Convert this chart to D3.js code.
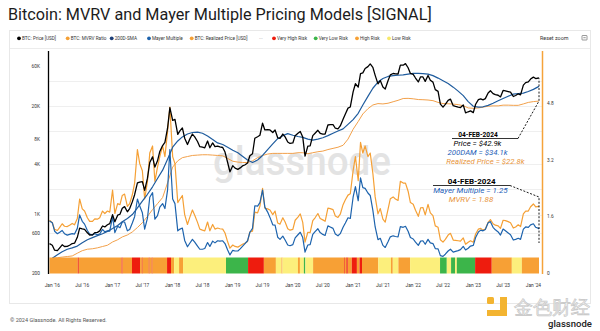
<!DOCTYPE html>
<html>
<head>
<meta charset="utf-8">
<script src="https://cdn.jsdelivr.net/npm/d3@7"></script>
<style>
  body { margin: 0; background: #fff; }
  svg text { font-family: Roboto, "Noto Sans", sans-serif; }
</style>
</head>
<body>
<svg id="chart" width="600" height="331"></svg>
<script>
// ---- data (semi-monthly: 15 Dec 2015, then 1st/15th of each month, last point 04 Feb 2024)
var priceUsd = [450,
  430, 375, 370, 400, 435, 415, 417, 430, 450, 455, 535, 690, 675, 665, 605, 570, 572, 608, 613, 638, 730, 712, 755, 780,
  1000, 820, 985, 1010, 1190, 1245, 1080, 1180, 1420, 1730, 2400, 2450, 2480, 1950, 2730, 4200, 4900, 3700, 4400, 5700, 6700, 7300, 10800, 19000,
  13400, 13800, 9100, 10100, 10900, 8200, 6900, 8000, 9200, 8500, 7500, 6500, 6400, 6300, 7600, 6300, 7200, 6500, 6600, 6450, 6350, 5600, 4200, 3250,
  3850, 3600, 3480, 3620, 3820, 3920, 4150, 5050, 5350, 8200, 8550, 8900, 12400, 10300, 10400, 10300, 9600, 10300, 8300, 8150, 9200, 8500, 7400, 7100,
  7200, 8800, 9400, 9900, 8500, 5000, 6600, 6650, 8800, 9400, 10200, 9400, 9200, 9200, 11800, 11900, 11900, 10800, 10600, 11500, 13800, 16000, 18800, 19400,
  29400, 36800, 33500, 48700, 49600, 55900, 59000, 63500, 57800, 46400, 36700, 40200, 33600, 31800, 39900, 47000, 48800, 48200, 48100, 61600, 61300, 64000, 57200, 48900,
  47700, 43100, 38700, 44500, 44400, 39300, 46300, 40500, 38500, 31300, 29800, 21000, 19300, 20800, 23300, 24100, 20100, 19700, 19300, 19100, 20500, 16500, 17000, 17400,
  16600, 20900, 23700, 24300, 23600, 24400, 28500, 30300, 28000, 27200, 26800, 25600, 30600, 30300, 29700, 29200, 25900, 26600, 27900, 27100, 35400, 37900, 38700, 41900,
  44200, 42500, 43100, 42900];

var mvrvRatio = [1.5,
  1.43, 1.24, 1.21, 1.30, 1.40, 1.33, 1.32, 1.36, 1.41, 1.37, 1.55, 2.1, 1.82, 1.76, 1.57, 1.47, 1.47, 1.54, 1.53, 1.57, 1.76, 1.69, 1.76, 1.73,
  2.35, 1.69, 1.97, 1.94, 2.2, 2.24, 1.89, 1.97, 2.22, 2.55, 3.5, 3.1, 2.9, 2.1, 2.6, 3.4, 3.6, 2.6, 3.0, 3.3, 3.6, 3.3, 4.0, 4.7,
  3.3, 3.1, 2.0, 2.1, 2.2, 1.66, 1.38, 1.58, 1.79, 1.64, 1.44, 1.25, 1.22, 1.2, 1.45, 1.2, 1.38, 1.25, 1.28, 1.26, 1.25, 1.14, 0.89, 0.71,
  0.8, 0.76, 0.74, 0.78, 0.82, 0.85, 0.9, 1.17, 1.19, 1.73, 1.71, 1.9, 2.4, 1.84, 1.82, 1.79, 1.66, 1.76, 1.42, 1.39, 1.57, 1.45, 1.26, 1.22,
  1.24, 1.5, 1.59, 1.68, 1.44, 0.88, 1.16, 1.15, 1.49, 1.57, 1.69, 1.55, 1.51, 1.47, 1.84, 1.83, 1.8, 1.62, 1.58, 1.67, 1.94, 2.08, 2.21, 2.25,
  2.9, 3.3, 2.62, 3.7, 3.4, 3.6, 3.3, 3.4, 2.82, 2.16, 1.68, 1.83, 1.53, 1.45, 1.81, 2.11, 2.16, 2.1, 2.06, 2.6, 2.55, 2.55, 2.32, 2.0,
  1.95, 1.78, 1.61, 1.85, 1.86, 1.65, 1.95, 1.71, 1.63, 1.34, 1.3, 0.95, 0.88, 0.96, 1.08, 1.13, 0.94, 0.93, 0.92, 0.91, 1.0, 0.82, 0.88, 0.92,
  0.88, 1.11, 1.25, 1.27, 1.22, 1.25, 1.44, 1.52, 1.4, 1.36, 1.34, 1.27, 1.5, 1.49, 1.46, 1.43, 1.28, 1.31, 1.37, 1.32, 1.68, 1.76, 1.76, 1.88,
  1.96, 1.88, 1.89, 1.88];

var mayerMultiple = [1.48,
  1.43, 1.19, 1.12, 1.16, 1.21, 1.12, 1.08, 1.10, 1.12, 1.11, 1.27, 1.65, 1.47, 1.39, 1.21, 1.11, 1.08, 1.12, 1.09, 1.11, 1.24, 1.17, 1.20, 1.19,
  1.6, 1.15, 1.33, 1.29, 1.45, 1.45, 1.2, 1.24, 1.42, 1.6, 2.1, 1.9, 1.71, 1.25, 1.56, 2.15, 2.28, 1.53, 1.63, 1.87, 1.97, 1.83, 2.35, 3.5,
  2.1, 1.97, 1.2, 1.25, 1.28, 0.93, 0.75, 0.85, 0.96, 0.88, 0.77, 0.68, 0.68, 0.7, 0.87, 0.76, 0.91, 0.86, 0.92, 0.91, 0.92, 0.84, 0.66, 0.52,
  0.65, 0.63, 0.63, 0.69, 0.76, 0.83, 0.92, 1.16, 1.27, 1.91, 1.9, 2.0, 2.35, 1.87, 1.73, 1.58, 1.37, 1.36, 1.02, 0.96, 1.05, 0.94, 0.8, 0.78,
  0.81, 1.0, 1.09, 1.16, 1.01, 0.6, 0.8, 0.81, 1.1, 1.18, 1.26, 1.15, 1.1, 1.07, 1.34, 1.31, 1.27, 1.11, 1.06, 1.12, 1.30, 1.42, 1.57, 1.55,
  2.15, 2.45, 2.05, 2.7, 2.42, 2.4, 2.27, 2.2, 1.78, 1.31, 0.95, 0.99, 0.79, 0.73, 0.89, 1.03, 1.06, 1.04, 1.03, 1.32, 1.3, 1.33, 1.19, 1.01,
  0.97, 0.88, 0.79, 0.91, 0.92, 0.82, 0.96, 0.86, 0.84, 0.7, 0.69, 0.5, 0.48, 0.54, 0.63, 0.68, 0.6, 0.62, 0.64, 0.67, 0.76, 0.66, 0.71, 0.77,
  0.79, 1.01, 1.17, 1.22, 1.2, 1.24, 1.43, 1.46, 1.3, 1.23, 1.17, 1.08, 1.25, 1.2, 1.14, 1.09, 0.94, 0.96, 0.99, 0.96, 1.25, 1.31, 1.3, 1.37,
  1.4, 1.3, 1.27, 1.25];

// monthly: 1st of each month Jan 2016 .. Feb 2024, last point 04 Feb 2024
var sma200 = [
  300, 330, 360, 385, 400, 420, 460, 500, 530, 560, 590, 630,
  680, 740, 820, 900, 1000, 1200, 1450, 1750, 2150, 2700, 3400, 4600,
  6400, 7600, 8500, 9200, 9600, 9700, 9400, 8700, 7900, 7200, 6900, 6400,
  5900, 5500, 5000, 4500, 4200, 4500, 5100, 6000, 7000, 8100, 8800, 9300,
  8900, 8600, 8400, 8000, 7800, 8000, 8300, 8800, 9400, 10000, 10600, 12000,
  13700, 16300, 20500, 26000, 32500, 38500, 42500, 45000, 46000, 46500, 47000, 48000,
  49000, 49000, 48500, 48000, 46000, 43000, 40000, 37000, 33500, 30000, 26500, 22500,
  19800, 19300, 19500, 20300, 21500, 23000, 24500, 26100, 27600, 28100, 28400, 29700,
  31500, 34000, 34100];

var realizedPrice = [
  300, 305, 310, 315, 320, 345, 370, 385, 390, 400, 415, 430,
  470, 500, 540, 570, 620, 700, 800, 950, 1150, 1350, 1600, 2400,
  3700, 4400, 4800, 4950, 5100, 5150, 5200, 5200, 5150, 5100, 5050, 4700,
  4350, 4250, 4200, 4200, 4400, 4800, 5100, 5300, 5400, 5400, 5400, 5400,
  5400, 5500, 5500, 5350, 5500, 5650, 5750, 6000, 6200, 6400, 6750, 8000,
  10500, 13000, 16000, 18500, 20500, 21300, 21100, 21500, 22400, 23300, 24500, 24600,
  24300, 23800, 23700, 23500, 23100, 22000, 21300, 21200, 21000, 20700, 20100, 18900,
  18700, 18900, 19300, 19800, 20000, 20000, 20400, 20400, 20300, 20300, 21100, 22000,
  22500, 22800, 22800];

// risk band: start date of each segment and its class (vh, h, l, vl)
var riskStarts = ["2015-12-15", "2016-06-04", "2016-06-10", "2017-02-25", "2017-03-03", "2017-04-29", "2017-06-17", "2017-06-28", "2017-07-02",
  "2017-08-09", "2017-08-13", "2017-08-27", "2017-08-31", "2017-11-28", "2017-12-22", "2018-01-10", "2018-02-09", "2018-03-05", "2018-11-21",
  "2019-04-04", "2019-07-09", "2019-09-20", "2019-10-24", "2019-10-30", "2020-02-01", "2020-02-13", "2020-03-08", "2020-03-17", "2020-05-03",
  "2020-11-07", "2020-11-11", "2020-11-19", "2020-11-23", "2020-11-27", "2020-12-01", "2020-12-24", "2021-01-24", "2021-02-09", "2021-02-24",
  "2021-06-03", "2021-08-19", "2021-08-30", "2021-10-03", "2021-12-13", "2022-06-13", "2022-07-24", "2022-08-19", "2022-09-12", "2022-09-23",
  "2023-01-12", "2023-04-23", "2023-08-23", "2023-10-23", "2024-02-04"];
var riskLevels = ["h", "vh", "h", "vh", "h", "vh", "h", "vh", "h",
  "vh", "h", "vh", "h", "vh", "h", "l", "h", "l", "vl",
  "vh", "h", "l", "h", "l", "h", "l", "vl", "l", "h",
  "vh", "h", "vh", "h", "vh", "h", "vh", "h", "vh", "h",
  "l", "h", "l", "h", "l", "vl", "l", "vl", "l", "vl",
  "vh", "h", "l", "h"];

var xTickLabels = ["Jan '16", "Jul '16", "Jan '17", "Jul '17", "Jan '18", "Jul '18", "Jan '19", "Jul '19", "Jan '20",
  "Jul '20", "Jan '21", "Jul '21", "Jan '22", "Jul '22", "Jan '23", "Jul '23", "Jan '24"];
var leftTickValues = [200, 600, 1000, 4000, 8000, 20000, 60000];
var leftTickLabels = ["200", "600", "1K", "4K", "8K", "20K", "60K"];
var rightTickValues = [0, 1.6, 3.2, 4.8];
var gridValues = [40000, 20000, 10000, 4000, 2000, 1000, 600];

// ---- dates
var parseDay = d3.utcParse("%Y-%m-%d");
var lastDay = parseDay("2024-02-04");
var halfMonthDates = [parseDay("2015-12-15")];
for (var yr = 2016; yr <= 2024; yr++) {
  for (var mo = 0; mo < 12; mo++) {
    [1, 15].forEach(function(d) {
      var dt = new Date(Date.UTC(yr, mo, d));
      if (dt <= parseDay("2024-02-01")) halfMonthDates.push(dt);
    });
  }
}
halfMonthDates.push(lastDay);
var monthDates = d3.utcMonths(parseDay("2016-01-01"), parseDay("2024-02-02"));
monthDates.push(lastDay);

var colors = {
  price: "#000000", mvrv: "#f5a035", sma: "#1f5c9e", mayer: "#1d63ad", realized: "#f2a04a",
  vh: "#ee1c0e", h: "#f7a035", l: "#fcef7c", vl: "#3cb54a"
};

var svg = d3.select("#chart");
var plotTop = 51, plotBottom = 273.5, plotLeft = 49, plotRight = 542;

var x = d3.scaleUtc().domain([parseDay("2015-12-15"), lastDay]).range([49.5, 539]);
var yL = d3.scaleLog().domain([200, 60000]).range([273, 66]);
var yR = d3.scaleLinear().domain([0, 4.8]).range([273.3, 103.5]);

// title
svg.append("text").attr("x", 8).attr("y", 20).attr("font-size", 16.2).attr("fill", "#1c1c1c")
  .text("Bitcoin: MVRV and Mayer Multiple Pricing Models [SIGNAL]");

// panel
svg.append("rect").attr("x", 9.5).attr("y", 30.5).attr("width", 581).attr("height", 273)
  .attr("fill", "#fff").attr("stroke", "#e8e8e8");
svg.append("line").attr("x1", 10).attr("x2", 590).attr("y1", 48.5).attr("y2", 48.5).attr("stroke", "#ececec");

// legend
var legendItems = [
  ["BTC: Price [USD]", colors.price, 19], ["BTC: MVRV Ratio", colors.mvrv, 67.7], ["200D-SMA", "#1d3f78", 111.7],
  ["Mayer Multiple", colors.mayer, 149], ["BTC: Realized Price [USD]", colors.mvrv, 191.7],
  ["Very High Risk", colors.vh, 274], ["Very Low Risk", colors.vl, 315.7], ["High Risk", colors.h, 357], ["Low Risk", "#f7e96a", 389]
];
var lg = svg.append("g");
legendItems.forEach(function(it) {
  lg.append("circle").attr("cx", it[2]).attr("cy", 38.3).attr("r", 1.9).attr("fill", it[1]);
  lg.append("text").attr("x", it[2] + 3).attr("y", 40).attr("font-size", 4.7).attr("fill", "#333").text(it[0]);
});
lg.append("text").attr("x", 259).attr("y", 40).attr("font-size", 5).attr("fill", "#888").text("···");
svg.append("text").attr("x", 540).attr("y", 40).attr("font-size", 5.4).attr("fill", "#333").text("Reset zoom");
var menu = svg.append("g").attr("stroke", "#555").attr("stroke-width", 0.6);
menu.append("rect").attr("x", 582).attr("y", 35.5).attr("width", 5).attr("height", 4.5).attr("fill", "none").attr("rx", 0.5);
menu.append("line").attr("x1", 583.3).attr("x2", 585.7).attr("y1", 37.7).attr("y2", 37.7);

// grid
svg.append("g").selectAll("line").data(gridValues).join("line")
  .attr("x1", plotLeft).attr("x2", plotRight).attr("y1", function(d) { return Math.round(yL(d)) + 0.5; })
  .attr("y2", function(d) { return Math.round(yL(d)) + 0.5; })
  .attr("stroke", "#efefef").attr("stroke-width", 1);

// watermark
svg.append("text").attr("x", 213).attr("y", 175).attr("font-size", 40).attr("font-weight", 500)
  .attr("fill", "#e3e3e3").attr("textLength", 178).attr("lengthAdjust", "spacingAndGlyphs").text("glassnode");

// clip
svg.append("clipPath").attr("id", "plotclip").append("rect")
  .attr("x", plotLeft).attr("y", plotTop).attr("width", plotRight - plotLeft).attr("height", plotBottom - plotTop);
var plot = svg.append("g").attr("clip-path", "url(#plotclip)");

function drawLine(dates, values, scale, color, width) {
  var line = d3.line()
    .x(function(d, i) { return x(dates[i]); })
    .y(function(d) { return scale(d); });
  plot.append("path").datum(values).attr("d", line).attr("fill", "none")
    .attr("stroke", color).attr("stroke-width", width).attr("stroke-linejoin", "round");
}

drawLine(monthDates, realizedPrice, yL, colors.realized, 1);
drawLine(halfMonthDates, mvrvRatio, yR, colors.mvrv, 1.2);
drawLine(halfMonthDates, mayerMultiple, yR, colors.mayer, 1.2);
drawLine(monthDates, sma200, yL, colors.sma, 1.2);
drawLine(halfMonthDates, priceUsd, yL, colors.price, 1.3);

// risk band
var segs = riskLevels.map(function(lv, i) {
  return { x0: x(parseDay(riskStarts[i])), x1: x(parseDay(riskStarts[i + 1])), lv: lv };
});
svg.append("g").selectAll("rect").data(segs).join("rect")
  .attr("x", function(d) { return d.x0; }).attr("y", 257.5)
  .attr("width", function(d) { return Math.max(0.8, d.x1 - d.x0); }).attr("height", 16)
  .attr("fill", function(d) { return colors[d.lv]; });

// axes lines
svg.append("line").attr("x1", 48.5).attr("x2", 48.5).attr("y1", plotTop).attr("y2", 274).attr("stroke", "#000").attr("stroke-width", 1.3);
svg.append("line").attr("x1", 542.5).attr("x2", 542.5).attr("y1", plotTop).attr("y2", 274).attr("stroke", "#f5a33a").attr("stroke-width", 1.5);

// left axis labels
svg.append("g").selectAll("text").data(leftTickValues).join("text")
  .attr("x", 40).attr("y", function(d) { return yL(d) + 1.7; }).attr("text-anchor", "end")
  .attr("font-size", 4.8).attr("fill", "#333").text(function(d, i) { return leftTickLabels[i]; });

// right axis labels
svg.append("g").selectAll("text").data(rightTickValues).join("text")
  .attr("x", 547).attr("y", function(d) { return yR(d) + 1.7; })
  .attr("font-size", 4.8).attr("fill", "#333").text(function(d) { return d === 0 ? "0" : d.toFixed(1); });

// x axis labels
var parseTick = d3.utcParse("%b '%y");
svg.append("g").selectAll("text").data(xTickLabels).join("text")
  .attr("x", function(d) { return x(parseTick(d)); }).attr("y", 287)
  .attr("text-anchor", "middle").attr("font-size", 4.8).attr("fill", "#333").text(function(d) { return d; });

// annotations
var ann = svg.append("g");
function annText(t, cx, yb, size, color, bold) {
  ann.append("text").attr("x", cx).attr("y", yb).attr("text-anchor", "middle").attr("font-size", size)
    .attr("fill", color).attr("font-weight", bold ? 700 : 400).attr("font-style", bold ? "normal" : "italic").text(t);
}
annText("04-FEB-2024", 478, 136.7, 6.6, "#000", true);
ann.append("line").attr("x1", 452).attr("x2", 518).attr("y1", 138.5).attr("y2", 138.5).attr("stroke", "#000").attr("stroke-width", 0.8);
annText("Price = $42.9k", 477.5, 146, 7.8, "#000", false);
annText("200DAM = $34.1k", 477.5, 155, 7.8, "#1f5fb8", false);
annText("Realized Price = $22.8k", 485.5, 164.3, 7.8, "#e8953c", false);

annText("04-FEB-2024", 471.7, 183.5, 8, "#000", true);
ann.append("line").attr("x1", 433).attr("x2", 510).attr("y1", 185.5).attr("y2", 185.5).attr("stroke", "#000").attr("stroke-width", 0.8);
annText("Mayer Multiple = 1.25", 470.5, 193.2, 8, "#1f5fb8", false);
annText("MVRV = 1.88", 471, 202, 8, "#e8953c", false);

var dash = d3.line();
ann.append("path").attr("d", dash([[518, 138.5], [539, 101], [539, yL(42900)]]))
  .attr("fill", "none").attr("stroke", "#000").attr("stroke-width", 0.9).attr("stroke-dasharray", "2,1.6");
ann.append("path").attr("d", dash([[510, 185.5], [539, 197], [539, 243]]))
  .attr("fill", "none").attr("stroke", "#000").attr("stroke-width", 0.9).attr("stroke-dasharray", "2,1.6");

// footer
svg.append("text").attr("x", 10).attr("y", 322).attr("font-size", 5.5).attr("fill", "#555")
  .text("\u00a9 2024 Glassnode. All Rights Reserved.");

// bottom-right marks
var mark = svg.append("g");
mark.append("rect").attr("x", 487).attr("y", 297).attr("width", 7).attr("height", 7).attr("rx", 1.5).attr("fill", "#f3b431");
mark.append("path").attr("d", "M500,297 h7 v19 h-20 v-6 h13 z").attr("fill", "#f3b431");
mark.append("text").attr("x", 514).attr("y", 313.5).attr("font-size", 19)
  .attr("font-family", "'Noto Sans CJK SC', sans-serif").attr("fill", "#eeeeee").attr("stroke", "#c4c4c4").attr("stroke-width", 0.6)
  .text("金色财经");
mark.append("text").attr("x", 548).attr("y", 326.5).attr("font-size", 9.5).attr("font-weight", 500).attr("fill", "#222").text("glassnode");
</script>
</body>
</html>
